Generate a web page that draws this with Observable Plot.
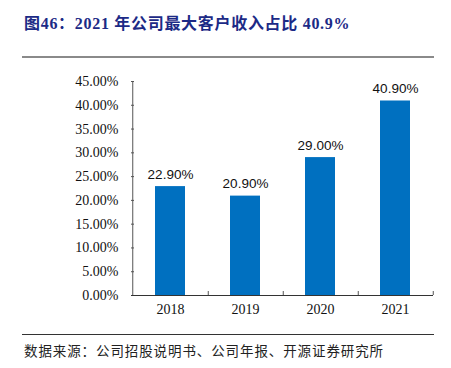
<!DOCTYPE html>
<html>
<head>
<meta charset="utf-8">
<script src="https://cdn.jsdelivr.net/npm/d3@7"></script>
<script src="https://cdn.jsdelivr.net/npm/@observablehq/plot@0.6"></script>
<style>
  html, body { margin: 0; padding: 0; background: #fff; }
  #wrap { position: relative; width: 451px; height: 368px; overflow: hidden; }
  #title { position: absolute; left: 24px; top: 10px; font: bold 16px "Liberation Serif", "Noto Sans CJK SC", serif; letter-spacing: 0.7px; color: #1c2a86; white-space: nowrap; }
  #line1 { position: absolute; left: 22px; top: 56px; width: 412px; border-top: 2px solid #8a8a8a; }
  #line2 { position: absolute; left: 22px; top: 334px; width: 412px; border-top: 1.5px solid #333; }
  #foot { position: absolute; left: 24px; top: 340px; font: 13.5px "Noto Sans CJK SC", serif; letter-spacing: 0.9px; color: #222; white-space: nowrap; }
  #chart { position: absolute; left: 0; top: 60px; }
</style>
</head>
<body>
<div id="wrap">
  <div id="title">图46：2021 年公司最大客户收入占比 40.9%</div>
  <div id="line1"></div>
  <div id="chart"></div>
  <div id="line2"></div>
  <div id="foot">数据来源：公司招股说明书、公司年报、开源证券研究所</div>
</div>
<script>
const years = ["2018", "2019", "2020", "2021"];
const shares = [0.229, 0.209, 0.29, 0.409];
const yTicks = [0, 0.05, 0.10, 0.15, 0.20, 0.25, 0.30, 0.35, 0.40, 0.45];

const data = years.map((y, i) => ({year: y, share: shares[i]}));

const W = 451, H = 270, mL = 131, mR = 18, mT = 21, mB = 35;
const plotW = W - mL - mR, plotH = H - mT - mB;
const step = plotW / years.length;
const fmt = d3.format(".2%");

const chart = Plot.plot({
  width: W,
  height: H,
  marginLeft: mL,
  marginRight: mR,
  marginTop: mT,
  marginBottom: mB,
  style: {background: "transparent", overflow: "visible"},
  x: {domain: years, paddingInner: 0.6, paddingOuter: 0.3, label: null},
  y: {domain: [0, 0.45], ticks: yTicks, label: null},
  marks: [
    Plot.barY(data, {x: "year", y: "share", fill: "#0070C0"}),
    Plot.text(data, {x: "year", y: "share", text: d => fmt(d.share), lineAnchor: "bottom", dy: -8,
      fontSize: 13.5, fontFamily: "Liberation Sans, Arial, sans-serif", fill: "#111"}),
    Plot.axisY({ticks: yTicks, tickSize: 0, tickPadding: 13, tickFormat: fmt,
      fontSize: 14, fontFamily: "Liberation Serif, Times New Roman, serif", fill: "#111", label: null}),
    Plot.axisX({tickSize: 0, tickPadding: 9, fontSize: 14,
      fontFamily: "Liberation Serif, Times New Roman, serif", fill: "#111", label: null}),
    Plot.ruleY(yTicks, {y: d => d, insetRight: plotW - 3, stroke: "#555"}),
    Plot.ruleX(years, {x: d => d, dx: step / 2, insetTop: plotH - 4, stroke: "#555"}),
    Plot.ruleX([years[0]], {x: d => d, dx: -step / 2, stroke: "#555"}),
    Plot.ruleY([0], {stroke: "#333"})
  ]
});
document.getElementById("chart").appendChild(chart);
</script>
</body>
</html>
